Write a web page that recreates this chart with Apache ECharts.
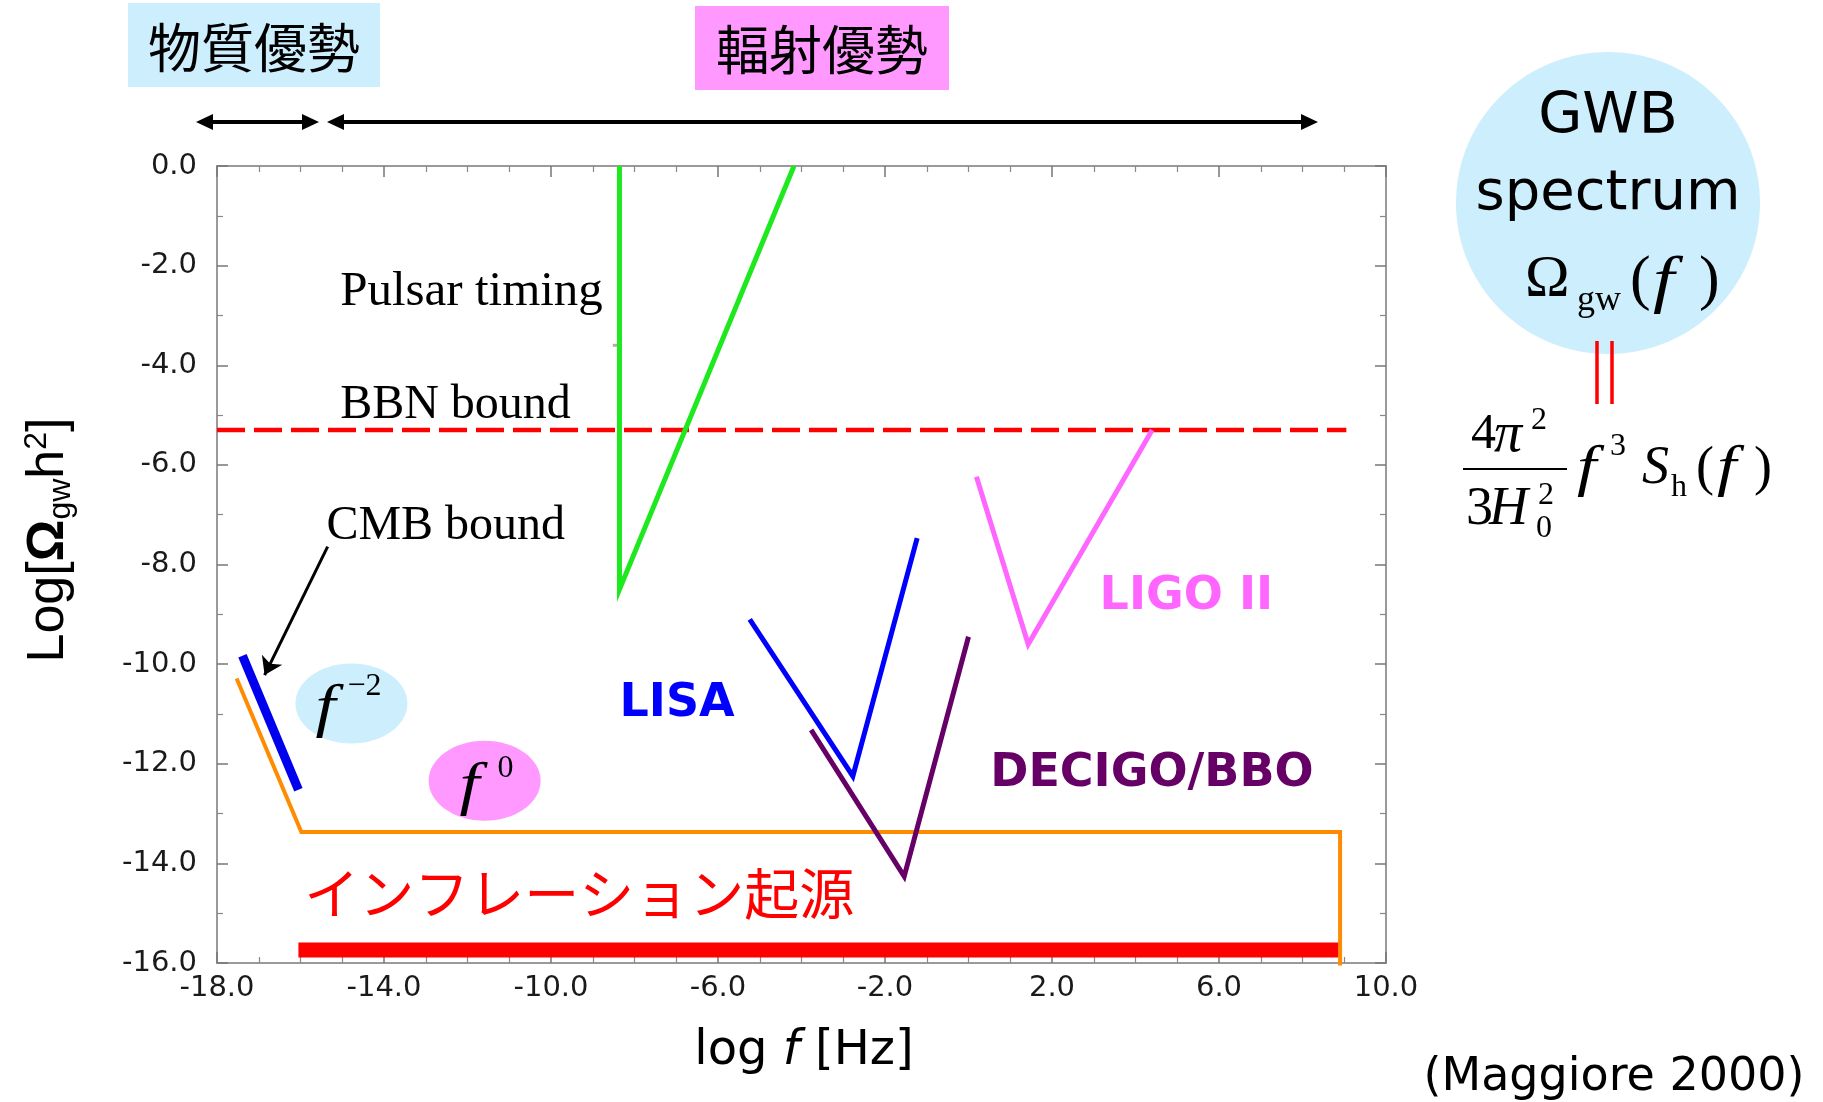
<!DOCTYPE html>
<html><head><meta charset="utf-8">
<script src="https://cdn.jsdelivr.net/npm/echarts@6/dist/echarts.min.js"></script>
<style>html,body{margin:0;padding:0;background:#fff}#c{width:1823px;height:1102px}</style>
</head><body><div id="c"></div>
<script>
// ---- axis tick labels ----
const xTickLabels = ['-18.0', '-14.0', '-10.0', '-6.0', '-2.0', '2.0', '6.0', '10.0'];
const yTickLabels = ['-16.0', '-14.0', '-12.0', '-10.0', '-8.0', '-6.0', '-4.0', '-2.0', '0.0'];

// ---- curves (log f [Hz], log Omega_gw h^2) ----
const pulsarX = [-8.36, -8.36, -4.18];
const pulsarY = [0.0, -8.5, 0.0];
const pulsarTickX = [-8.52, -8.40];
const pulsarTickY = [-3.6, -3.6];
const bbnX = [-18.0, 9.05];
const bbnY = [-5.3, -5.3];
const cmbX = [-17.39, -16.05];
const cmbY = [-9.83, -12.52];
const cmbArrowX = [-15.35, -16.86];
const cmbArrowY = [-7.64, -10.22];
const inflationX = [-17.53, -15.98, 8.9, 8.9];
const inflationY = [-10.29, -13.37, -13.37, -16.05];
const inflationBarX = [-16.05, 8.9];
const inflationBarY = [-15.74, -15.74];
const lisaX = [-5.24, -2.77, -1.23];
const lisaY = [-9.1, -12.25, -7.47];
const decigoX = [-3.77, -1.54, 0.0];
const decigoY = [-11.32, -14.26, -9.45];
const ligoX = [0.19, 1.43, 4.4];
const ligoY = [-6.24, -9.6, -5.3];

const chart = echarts.init(document.getElementById('c'), null, {renderer: 'canvas'});

function zip(xs, ys) { return xs.map((x, i) => [x, ys[i]]); }
function seg(name, xs, ys, color, width, type, z) {
  return {
    name: name, type: 'line', data: zip(xs, ys), symbol: 'none', showSymbol: false,
    lineStyle: {color: color, width: width, type: type || 'solid', cap: 'butt', join: 'miter'},
    clip: false, animation: false, silent: true, z: z || 3
  };
}

const axisCommon = {
  axisLine: {show: true, onZero: false, lineStyle: {color: '#9a9a9a', width: 2}},
  axisTick: {show: true, inside: true, length: 11, lineStyle: {color: '#777', width: 1.5}},
  minorTick: {show: true, length: 6, lineStyle: {color: '#888', width: 1.2}},
  splitLine: {show: false},
  minorSplitLine: {show: false}
};

const option = {
  backgroundColor: '#ffffff',
  animation: false,
  grid: {left: 217, right: 437, top: 166, bottom: 139, containLabel: false},
  xAxis: [
    Object.assign({}, axisCommon, {
      type: 'value', min: -18, max: 10, interval: 4, position: 'bottom',
      minorTick: Object.assign({}, axisCommon.minorTick, {splitNumber: 4}),
      axisLabel: {
        formatter: v => xTickLabels[Math.round((v + 18) / 4)],
        fontFamily: 'DejaVu Sans', fontSize: 29, color: '#1a1a1a', margin: 11
      }
    }),
    Object.assign({}, axisCommon, {
      type: 'value', min: -18, max: 10, interval: 4, position: 'top',
      minorTick: Object.assign({}, axisCommon.minorTick, {splitNumber: 4}),
      axisLabel: {show: false}
    })
  ],
  yAxis: [
    Object.assign({}, axisCommon, {
      type: 'value', min: -16, max: 0, interval: 2, position: 'left',
      minorTick: Object.assign({}, axisCommon.minorTick, {splitNumber: 2}),
      axisLabel: {
        formatter: v => yTickLabels[Math.round((v + 16) / 2)],
        fontFamily: 'DejaVu Sans', fontSize: 29, color: '#1a1a1a', margin: 20
      }
    }),
    Object.assign({}, axisCommon, {
      type: 'value', min: -16, max: 0, interval: 2, position: 'right',
      minorTick: Object.assign({}, axisCommon.minorTick, {splitNumber: 2}),
      axisLabel: {show: false}
    })
  ],
  series: [
    seg('Inflation bar', inflationBarX, inflationBarY, '#ff0000', 15, 'solid', 2),
    seg('Inflation', inflationX, inflationY, '#ff8c00', 4, 'solid', 3),
    seg('BBN bound', bbnX, bbnY, '#ff0000', 4.5, [28, 9], 3),
    seg('Pulsar timing', pulsarX, pulsarY, '#1ee81e', 5, 'solid', 4),
    seg('Pulsar tick', pulsarTickX, pulsarTickY, '#c4a4a4', 3, 'solid', 3),
    seg('CMB bound', cmbX, cmbY, '#0000ee', 9, 'solid', 4),
    seg('LISA', lisaX, lisaY, '#0000ff', 5, 'solid', 4),
    seg('DECIGO/BBO', decigoX, decigoY, '#660066', 5, 'solid', 4),
    seg('LIGO II', ligoX, ligoY, '#ff66ff', 5, 'solid', 4),
    {
      name: 'CMB arrow', type: 'lines', coordinateSystem: 'cartesian2d',
      xAxisIndex: 0, yAxisIndex: 0, silent: true, animation: false, z: 5,
      symbol: ['none', 'arrow'], symbolSize: 17,
      lineStyle: {color: '#000', width: 3, opacity: 1, curveness: 0},
      data: [{coords: zip(cmbArrowX, cmbArrowY)}]
    }
  ]
};
chart.setOption(option);

const P = (x, y) => chart.convertToPixel({xAxisIndex: 0, yAxisIndex: 0}, [x, y]);

function T(x, y, text, size, family, opts) {
  opts = opts || {};
  return {
    type: 'text', x: x, y: y, z: opts.z || 20, rotation: opts.rotation || 0,
    scaleX: opts.sx || 1, silent: true,
    style: {
      text: text, fontSize: size, fontFamily: family,
      fontStyle: opts.italic ? 'italic' : 'normal',
      fontWeight: opts.bold ? 'bold' : 'normal',
      fill: opts.fill || '#000', align: opts.align || 'left', verticalAlign: opts.va || 'middle',
      rich: opts.rich
    }
  };
}
const SERIF = 'Liberation Serif';
const SANS = 'DejaVu Sans';
const CJK = 'Noto Sans CJK JP';
const FX = 1.2; // italic f is drawn a little wider, like the reference

const g = [];
// top regime boxes
g.push({type: 'rect', shape: {x: 128, y: 3, width: 252, height: 84}, style: {fill: '#cdeefd'}, z: 1, silent: true});
g.push(T(254, 48, '物質優勢', 53, CJK, {align: 'center'}));
g.push({type: 'rect', shape: {x: 695, y: 6, width: 254, height: 84}, style: {fill: '#ff99ff'}, z: 1, silent: true});
g.push(T(822, 50, '輻射優勢', 53, CJK, {align: 'center'}));

// double arrows
function dblArrow(x1, x2, y) {
  g.push({type: 'line', shape: {x1: x1 + 8, y1: y, x2: x2 - 8, y2: y}, style: {stroke: '#000', lineWidth: 4}, z: 5, silent: true});
  g.push({type: 'polygon', shape: {points: [[x1, y], [x1 + 17, y - 8], [x1 + 17, y + 8]]}, style: {fill: '#000'}, z: 5, silent: true});
  g.push({type: 'polygon', shape: {points: [[x2, y], [x2 - 17, y - 8], [x2 - 17, y + 8]]}, style: {fill: '#000'}, z: 5, silent: true});
}
dblArrow(196, 319, 122);
dblArrow(327, 1318, 122);

// annotations inside plot
let p;
p = P(-15.05, -2.5); g.push(T(p[0], p[1] + 2, 'Pulsar timing', 49, SERIF));
p = P(-15.05, -4.77); g.push(T(p[0], p[1] + 2, 'BBN bound', 48, SERIF));
p = P(-15.38, -7.2); g.push(T(p[0], p[1] + 2, 'CMB bound', 48, SERIF));
p = P(-8.36, -10.75); g.push(T(p[0], p[1] + 3, 'LISA', 46, SANS, {bold: true, fill: '#0000ff'}));
p = P(3.14, -8.6); g.push(T(p[0], p[1] + 3, 'LIGO II', 46, SANS, {bold: true, fill: '#ff66ff'}));
p = P(0.52, -12.15); g.push(T(p[0], p[1] + 3, 'DECIGO/BBO', 46, SANS, {bold: true, fill: '#660066'}));
p = P(-15.91, -14.6); g.push(T(p[0], p[1], 'インフレーション起源', 55, CJK, {fill: '#ff0000'}));

// f^-2 and f^0 bubbles
p = P(-14.78, -10.79);
g.push({type: 'ellipse', shape: {cx: p[0], cy: p[1], rx: 56, ry: 40}, style: {fill: '#cdeefd'}, z: 1, silent: true});
g.push(T(p[0] - 36, p[1] + 6, 'f', 60, SERIF, {italic: true, sx: FX}));
g.push(T(p[0] - 4, p[1] - 17, '\u22122', 32, SERIF));
p = P(-11.59, -12.34);
g.push({type: 'ellipse', shape: {cx: p[0], cy: p[1], rx: 56, ry: 40}, style: {fill: '#ff99ff'}, z: 1, silent: true});
g.push(T(p[0] - 25, p[1] + 7, 'f', 60, SERIF, {italic: true, sx: FX}));
g.push(T(p[0] + 13, p[1] - 12, '0', 32, SERIF));

// axis names
g.push(T(804, 1052, '{a|log }{i|f}{a| [Hz]}', 48, SANS, {align: 'center', rich: {
  a: {fontSize: 48, fontFamily: SANS, fill: '#000'},
  i: {fontSize: 48, fontFamily: SANS, fontStyle: 'italic', fill: '#000'}
}}));
g.push(T(49, 540, '{a|Log[}{o|\u03A9}{s|gw}{a|h}{p|2}{a|]}', 52, 'Liberation Sans', {align: 'center', rotation: Math.PI / 2, rich: {
  a: {fontSize: 52, fontFamily: 'Liberation Sans', fill: '#000', lineHeight: 56, verticalAlign: 'middle'},
  o: {fontSize: 52, fontFamily: 'Liberation Sans', fontWeight: 'bold', fill: '#000', lineHeight: 56, verticalAlign: 'middle'},
  s: {fontSize: 32, fontFamily: 'Liberation Sans', fill: '#000', lineHeight: 34, verticalAlign: 'bottom'},
  p: {fontSize: 32, fontFamily: 'Liberation Sans', fill: '#000', lineHeight: 34, verticalAlign: 'top'}
}}));

// GWB spectrum bubble
g.push({type: 'ellipse', shape: {cx: 1608, cy: 203, rx: 152, ry: 151}, style: {fill: '#cdeefd'}, z: 1, silent: true});
g.push(T(1608, 118, 'GWB', 57, SANS, {align: 'center'}));
g.push(T(1608, 194, 'spectrum', 56, SANS, {align: 'center'}));
g.push(T(1525, 280, '\u03A9', 60, SERIF));
g.push(T(1577, 301, 'gw', 36, SERIF));
g.push(T(1630, 282, '(', 62, SERIF));
g.push(T(1653, 283, 'f', 64, SERIF, {italic: true, sx: FX}));
g.push(T(1699, 282, ')', 62, SERIF));
// equals sign (vertical)
g.push({type: 'line', shape: {x1: 1597, y1: 341, x2: 1597, y2: 404}, style: {stroke: '#ff0000', lineWidth: 3.5}, z: 5, silent: true});
g.push({type: 'line', shape: {x1: 1612, y1: 341, x2: 1612, y2: 404}, style: {stroke: '#ff0000', lineWidth: 3.5}, z: 5, silent: true});
// 4 pi^2 / (3 H0^2) f^3 S_h(f)
g.push(T(1471, 435, '4', 50, SERIF));
g.push(T(1494, 436, '\u03C0', 56, SERIF, {italic: true}));
g.push(T(1531, 421, '2', 32, SERIF));
g.push({type: 'line', shape: {x1: 1463, y1: 469, x2: 1567, y2: 469}, style: {stroke: '#000', lineWidth: 2}, z: 5, silent: true});
g.push(T(1466, 510, '3', 54, SERIF));
g.push(T(1489, 510, 'H', 54, SERIF, {italic: true}));
g.push(T(1538, 496, '2', 32, SERIF));
g.push(T(1536, 529, '0', 32, SERIF));
g.push(T(1577, 470, 'f', 58, SERIF, {italic: true, sx: FX}));
g.push(T(1610, 447, '3', 32, SERIF));
g.push(T(1642, 469, 'S', 54, SERIF, {italic: true}));
g.push(T(1671, 488, 'h', 32, SERIF));
g.push(T(1696, 470, '(', 54, SERIF));
g.push(T(1717, 470, 'f', 58, SERIF, {italic: true, sx: FX}));
g.push(T(1754, 470, ')', 54, SERIF));

// citation
g.push(T(1614, 1078, '(Maggiore 2000)', 46, SANS, {align: 'center'}));

chart.setOption({graphic: g});
</script>
</body></html>
